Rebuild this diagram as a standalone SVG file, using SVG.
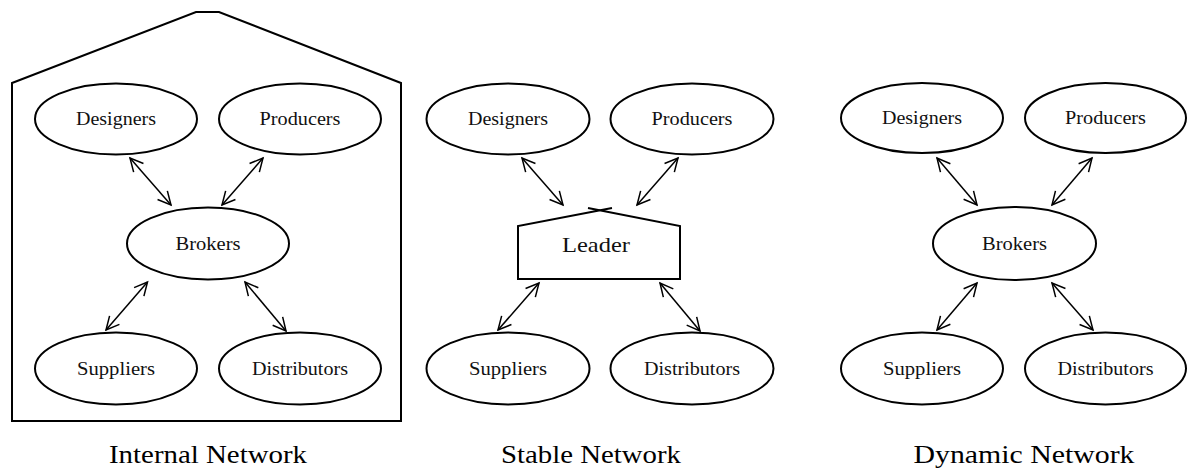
<svg xmlns="http://www.w3.org/2000/svg" width="1187" height="472" viewBox="0 0 1187 472">
<style>
.n{fill:#fff;stroke:#000;stroke-width:2}
.o{fill:none;stroke:#000;stroke-width:2;stroke-linejoin:miter}
.t{font-family:"Liberation Serif","Times New Roman",serif;font-size:18px;fill:#111;text-anchor:middle}
.l{font-family:"Liberation Serif","Times New Roman",serif;font-size:22px;fill:#111;text-anchor:middle}
.h{font-family:"Liberation Serif","Times New Roman",serif;font-size:26px;fill:#000;text-anchor:middle}
.c{fill:none;stroke:#000;stroke-width:1.5;marker-start:url(#ah);marker-end:url(#ah)}
</style>
<defs>
<marker id="ah" markerUnits="userSpaceOnUse" orient="auto-start-reverse" refX="0" refY="0" viewBox="-15 -8 16 16" markerWidth="16" markerHeight="16" overflow="visible">
<path d="M-13,-6.5 L0,0 L-13,6.5" fill="none" stroke="#000" stroke-width="1.5"/>
</marker>
</defs>
<rect width="1187" height="472" fill="#fff"/>

<!-- Internal Network -->
<g id="internal-boundary">
<polygon class="o" points="12,421 12,83 196,12 219,12 401,83 401,421"/>
</g>
<g id="int-designers"><ellipse class="n" cx="116" cy="119" rx="81" ry="35.5"/><text class="t" x="116" y="125" textLength="80" lengthAdjust="spacingAndGlyphs">Designers</text></g>
<g id="int-producers"><ellipse class="n" cx="300" cy="119" rx="81" ry="35.5"/><text class="t" x="300" y="125" textLength="81" lengthAdjust="spacingAndGlyphs">Producers</text></g>
<g id="int-brokers"><ellipse class="n" cx="208" cy="243.5" rx="81" ry="36"/><text class="t" x="208" y="249.5" textLength="65" lengthAdjust="spacingAndGlyphs">Brokers</text></g>
<g id="int-suppliers"><ellipse class="n" cx="116" cy="368.5" rx="81" ry="36"/><text class="t" x="116" y="374.5" textLength="78" lengthAdjust="spacingAndGlyphs">Suppliers</text></g>
<g id="int-distributors"><ellipse class="n" cx="300" cy="368.5" rx="81" ry="36"/><text class="t" x="300" y="374.5" textLength="96" lengthAdjust="spacingAndGlyphs">Distributors</text></g>

<!-- Stable Network -->
<g id="stb-designers"><ellipse class="n" cx="508" cy="119" rx="81.5" ry="35.5"/><text class="t" x="508" y="125" textLength="80" lengthAdjust="spacingAndGlyphs">Designers</text></g>
<g id="stb-producers"><ellipse class="n" cx="692" cy="119" rx="81.5" ry="35.5"/><text class="t" x="692" y="125" textLength="81" lengthAdjust="spacingAndGlyphs">Producers</text></g>
<g id="stb-leader">
<polyline class="o" points="612,208 518,226 518,279 680,279 680,226 588,208"/>
<text class="l" x="596" y="251.5" textLength="68" lengthAdjust="spacingAndGlyphs">Leader</text>
</g>
<g id="stb-suppliers"><ellipse class="n" cx="508" cy="368.5" rx="81.5" ry="36"/><text class="t" x="508" y="374.5" textLength="78" lengthAdjust="spacingAndGlyphs">Suppliers</text></g>
<g id="stb-distributors"><ellipse class="n" cx="692" cy="368.5" rx="81.5" ry="36"/><text class="t" x="692" y="374.5" textLength="96" lengthAdjust="spacingAndGlyphs">Distributors</text></g>

<!-- Dynamic Network -->
<g id="dyn-designers"><ellipse class="n" cx="922" cy="118" rx="81" ry="35"/><text class="t" x="922" y="124" textLength="80" lengthAdjust="spacingAndGlyphs">Designers</text></g>
<g id="dyn-producers"><ellipse class="n" cx="1105.5" cy="118" rx="80.5" ry="35"/><text class="t" x="1105.5" y="124" textLength="81" lengthAdjust="spacingAndGlyphs">Producers</text></g>
<g id="dyn-brokers"><ellipse class="n" cx="1014.5" cy="243.5" rx="81.5" ry="36.5"/><text class="t" x="1014.5" y="249.5" textLength="65" lengthAdjust="spacingAndGlyphs">Brokers</text></g>
<g id="dyn-suppliers"><ellipse class="n" cx="922" cy="368.5" rx="81" ry="36"/><text class="t" x="922" y="374.5" textLength="78" lengthAdjust="spacingAndGlyphs">Suppliers</text></g>
<g id="dyn-distributors"><ellipse class="n" cx="1105.5" cy="368.5" rx="80.5" ry="36"/><text class="t" x="1105.5" y="374.5" textLength="96" lengthAdjust="spacingAndGlyphs">Distributors</text></g>

<g id="connectors">
<line class="c" x1="130" y1="158" x2="171" y2="205"/>
<line class="c" x1="263" y1="158" x2="222" y2="205"/>
<line class="c" x1="147.5" y1="282" x2="106" y2="330"/>
<line class="c" x1="245" y1="282" x2="286" y2="331"/>

<line class="c" x1="522" y1="158" x2="563" y2="205"/>
<line class="c" x1="678" y1="158" x2="637" y2="205"/>
<line class="c" x1="539" y1="283" x2="498" y2="330"/>
<line class="c" x1="660" y1="283" x2="700" y2="331"/>

<line class="c" x1="937" y1="158" x2="977" y2="205"/>
<line class="c" x1="1092" y1="158" x2="1052" y2="205"/>
<line class="c" x1="977" y1="283" x2="937" y2="330"/>
<line class="c" x1="1052" y1="283" x2="1093" y2="330"/>
</g>

<g id="titles">
<text class="h" x="208" y="463" textLength="198" lengthAdjust="spacingAndGlyphs">Internal Network</text>
<text class="h" x="591" y="463" textLength="180" lengthAdjust="spacingAndGlyphs">Stable Network</text>
<text class="h" x="1024" y="463" textLength="221" lengthAdjust="spacingAndGlyphs">Dynamic Network</text>
</g>
</svg>
